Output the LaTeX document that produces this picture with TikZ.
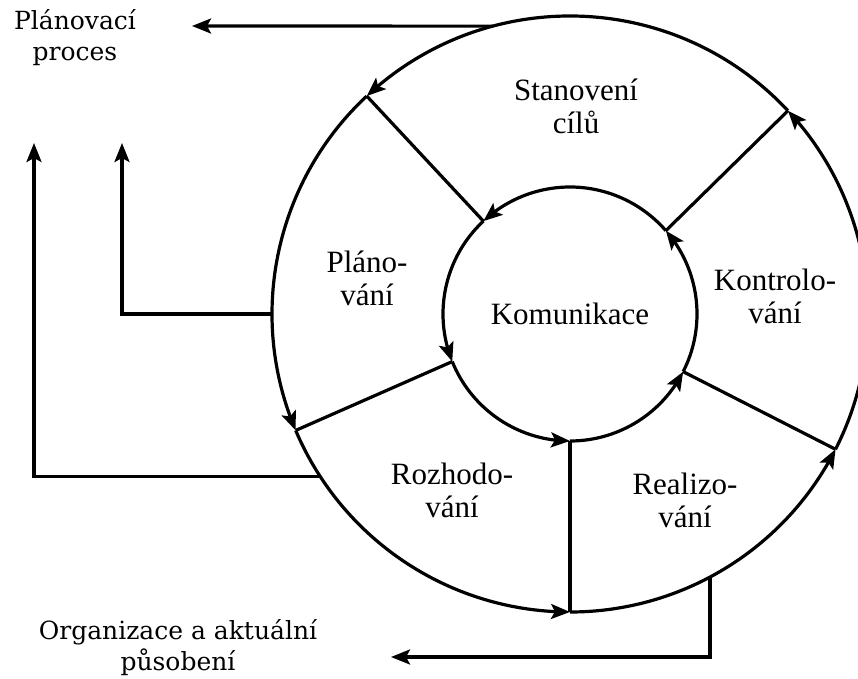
\documentclass[tikz,border=0pt]{standalone}
\usepackage{fontspec}
\setmainfont{Liberation Serif}
\newfontfamily\outerfont{DejaVu Serif}
\usetikzlibrary{arrows.meta,bending}
\begin{document}
\begin{tikzpicture}[x=1pt,y=1pt,
  line width=3.2pt,
  arr/.style={-{Stealth[length=19pt,width=15pt,inset=4pt]}},
  ring/.style={circle,inner sep=0pt,outer sep=0pt,draw=none},
  lbl/.style={align=center,inner sep=0pt,font=\fontsize{31}{33}\selectfont},
  olbl/.style={align=center,inner sep=0pt,font=\outerfont\fontsize{25}{31}\selectfont}]
\useasboundingbox (0,0) rectangle (858,678);
\coordinate (C) at (570,364);
\node[ring,minimum size=596pt] (outer) at (C) {};
\node[ring,lbl,minimum size=254pt] (inner) at (C) {Komunikace};
% outer ring arcs (counterclockwise)
\draw[arr] (outer.43)  arc[start angle=43,end angle=133,radius=298pt];
\draw[arr] (outer.133) arc[start angle=133,end angle=203,radius=298pt];
\draw[arr] (outer.203) arc[start angle=203,end angle=270,radius=298pt];
\draw[arr] (outer.270) arc[start angle=270,end angle=333,radius=298pt];
\draw[arr] (outer.333) arc[start angle=333,end angle=403,radius=298pt];
% inner ring arcs
\draw[arr] (inner.41)  arc[start angle=41,end angle=133,radius=127pt];
\draw[arr] (inner.133) arc[start angle=133,end angle=202,radius=127pt];
\draw[arr] (inner.202) arc[start angle=202,end angle=270,radius=127pt];
\draw[arr] (inner.270) arc[start angle=270,end angle=333,radius=127pt];
\draw[arr] (inner.333) arc[start angle=333,end angle=401,radius=127pt];
% spokes
\draw (outer.133) -- (inner.133);
\draw (outer.203) -- (inner.202);
\draw (outer.270) -- (inner.270);
\draw (outer.333) -- (inner.333);
\draw (outer.43)  -- (inner.41);
% feedback connectors
\coordinate (tipT) at (192,652);
\coordinate (tipA) at (34,535);
\coordinate (tipB) at (122,535);
\coordinate (tipD) at (391,21);
\draw[arr] (outer.105) -- (tipT);
\draw[arr] (outer.213) -| (tipA);
\draw[arr] (outer.180) -| (tipB);
\draw[arr] (outer.298) |- (tipD);
% labels
\node[olbl] (plan) at (75,640) {Plánovací\\proces};
\node[olbl] (org) at (178,30) {Organizace a aktuální\\působení};
\node[lbl] (cile) at (576,572) {Stanovení\\cílů};
\node[lbl] (plano) at (367,400) {Pláno-\\vání};
\node[lbl] (kontrola) at (775,382) {Kontrolo-\\vání};
\node[lbl] (rozhod) at (452,188) {Rozhodo-\\vání};
\node[lbl] (realiz) at (685,178) {Realizo-\\vání};
\end{tikzpicture}
\end{document}
